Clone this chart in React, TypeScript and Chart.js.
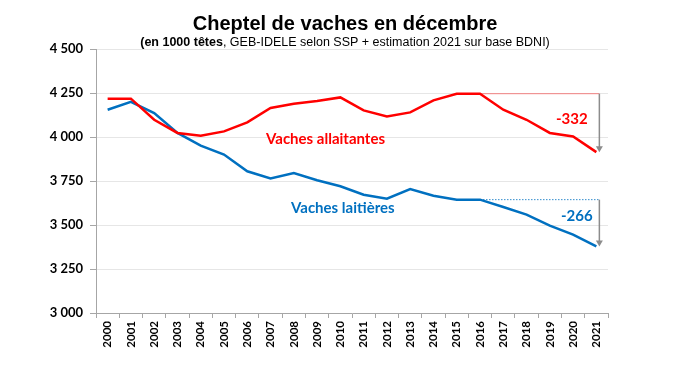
import React, { useEffect, useRef } from "react";
import { Chart, registerables } from "chart.js";

Chart.register(...registerables);

const years = ["2000","2001","2002","2003","2004","2005","2006","2007","2008","2009","2010","2011","2012","2013","2014","2015","2016","2017","2018","2019","2020","2021"];
const allaitantes = [4217,4218,4098,4023,4007,4032,4083,4165,4189,4205,4225,4151,4117,4140,4208,4246,4246,4155,4098,4023,4003,3914];
const laitieres = [4155,4200,4136,4023,3951,3900,3805,3765,3795,3754,3720,3672,3649,3704,3666,3644,3644,3602,3559,3496,3445,3378];
const yTicks = [3000,3250,3500,3750,4000,4250,4500];
const refIndex = 16;
const lastIndex = 21;
const titleText = "Cheptel de vaches en décembre";
const subBold = "(en 1000 têtes";
const subRest = ", GEB-IDELE selon SSP + estimation 2021 sur base BDNI)";
const labelAllaitantes = "Vaches allaitantes";
const labelLaitieres = "Vaches laitières";

const RED = "#ff0000";
const BLUE = "#0070c0";
const FONT = "Lato, 'Open Sans', sans-serif";

const fmt = (v: number) => {
  const s = String(Math.round(v));
  return s.replace(/\B(?=(\d{3})+(?!\d))/g, " ");
};

const overlay = {
  id: "overlay",
  afterDatasetsDraw(chart: any) {
    const ctx = chart.ctx;
    const x = chart.scales.x;
    const y = chart.scales.y;
    ctx.save();
    // title
    ctx.fillStyle = "#000";
    ctx.textBaseline = "middle";
    ctx.textAlign = "center";
    ctx.font = "bold 20px 'Liberation Sans', Arial, sans-serif";
    ctx.fillText(titleText, 345, 24);
    const sb = "bold 12.5px 'Liberation Sans', Arial, sans-serif";
    const sn = "12.5px 'Liberation Sans', Arial, sans-serif";
    ctx.font = sb;
    const wb = ctx.measureText(subBold).width;
    ctx.font = sn;
    const wr = ctx.measureText(subRest).width;
    const sx = 345 - (wb + wr) / 2;
    ctx.textAlign = "left";
    ctx.font = sb;
    ctx.fillText(subBold, sx, 43);
    ctx.font = sn;
    ctx.fillText(subRest, sx + wb, 43);

    const xr = x.getPixelForValue(refIndex);
    const xa = x.getPixelForValue(lastIndex) + 3;
    // reference lines
    const yr1 = y.getPixelForValue(allaitantes[refIndex]);
    const yr2 = y.getPixelForValue(laitieres[refIndex]);
    ctx.lineWidth = 1;
    ctx.strokeStyle = "rgba(255,0,0,0.45)";
    ctx.beginPath(); ctx.moveTo(xr, yr1); ctx.lineTo(xa, yr1); ctx.stroke();
    ctx.strokeStyle = "rgba(0,112,192,0.8)";
    ctx.setLineDash([1.5, 1.5]);
    ctx.beginPath(); ctx.moveTo(xr, yr2); ctx.lineTo(xa, yr2); ctx.stroke();
    ctx.setLineDash([]);
    // arrows
    const arrow = (y0: number, y1: number) => {
      ctx.strokeStyle = "#8c8c8c";
      ctx.fillStyle = "#8c8c8c";
      ctx.lineWidth = 1.5;
      ctx.beginPath(); ctx.moveTo(xa, y0); ctx.lineTo(xa, y1 - 5); ctx.stroke();
      ctx.beginPath(); ctx.moveTo(xa - 3.5, y1 - 6); ctx.lineTo(xa + 3.5, y1 - 6); ctx.lineTo(xa, y1); ctx.closePath(); ctx.fill();
    };
    arrow(yr1, y.getPixelForValue(allaitantes[lastIndex]));
    arrow(yr2, y.getPixelForValue(laitieres[lastIndex]));

    // labels
    ctx.textAlign = "left";
    ctx.font = `bold 15px ${FONT}`;
    ctx.fillStyle = RED;
    ctx.fillText(labelAllaitantes, 266, 139);
    ctx.fillStyle = BLUE;
    ctx.fillText(labelLaitieres, 291, 208);
    ctx.font = `bold 15px ${FONT}`;
    ctx.fillStyle = RED;
    ctx.fillText(String(allaitantes[lastIndex] - allaitantes[refIndex]), 556, 119);
    ctx.fillStyle = BLUE;
    ctx.fillText(String(laitieres[lastIndex] - laitieres[refIndex]), 561, 216);
    ctx.restore();
  },
};

export default function App() {
  const ref = useRef<HTMLCanvasElement | null>(null);
  useEffect(() => {
    if (!ref.current) return;
    const chart = new Chart(ref.current, {
      type: "line",
      data: {
        labels: years,
        datasets: [
          { label: labelAllaitantes, data: allaitantes, borderColor: RED, backgroundColor: RED, borderWidth: 2.5, pointRadius: 0, tension: 0 },
          { label: labelLaitieres, data: laitieres, borderColor: BLUE, backgroundColor: BLUE, borderWidth: 2.5, pointRadius: 0, tension: 0 },
        ],
      },
      options: {
        animation: false,
        responsive: false,
        events: [],
        layout: { padding: { top: 49, right: 82, left: 0, bottom: 0 } },
        plugins: { legend: { display: false }, title: { display: false }, tooltip: { enabled: false } },
        scales: {
          x: {
            offset: true,
            grid: { display: true, drawOnChartArea: false, drawTicks: true, tickLength: 5, offset: true, color: "#a6a6a6" },
            border: { display: true, color: "#a6a6a6", width: 1 },
            ticks: { minRotation: 90, maxRotation: 90, autoSkip: false, color: "#000", padding: 3, font: { family: FONT, size: 11.5, weight: "bold" } },
            afterFit: (s: any) => { s.height = 75; },
          },
          y: {
            min: 3000,
            max: 4500,
            afterBuildTicks: (s: any) => { s.ticks = yTicks.map((v) => ({ value: v })); },
            grid: { color: "#e6e6e6", lineWidth: 1, drawTicks: true, tickLength: 6, tickColor: "#a6a6a6" },
            border: { display: true, color: "#a6a6a6", width: 1 },
            ticks: { color: "#000", padding: 7, font: { family: FONT, size: 13, weight: "bold" }, callback: (v: any) => fmt(Number(v)) },
            afterFit: (s: any) => { s.width = 96; },
          },
        },
      },
      plugins: [overlay],
    });
    return () => chart.destroy();
  }, []);
  return (
    <div style={{ position: "absolute", left: 0, top: 0, width: 690, height: 388, background: "#fff" }}>
      <canvas ref={ref} width={690} height={388} />
    </div>
  );
}
